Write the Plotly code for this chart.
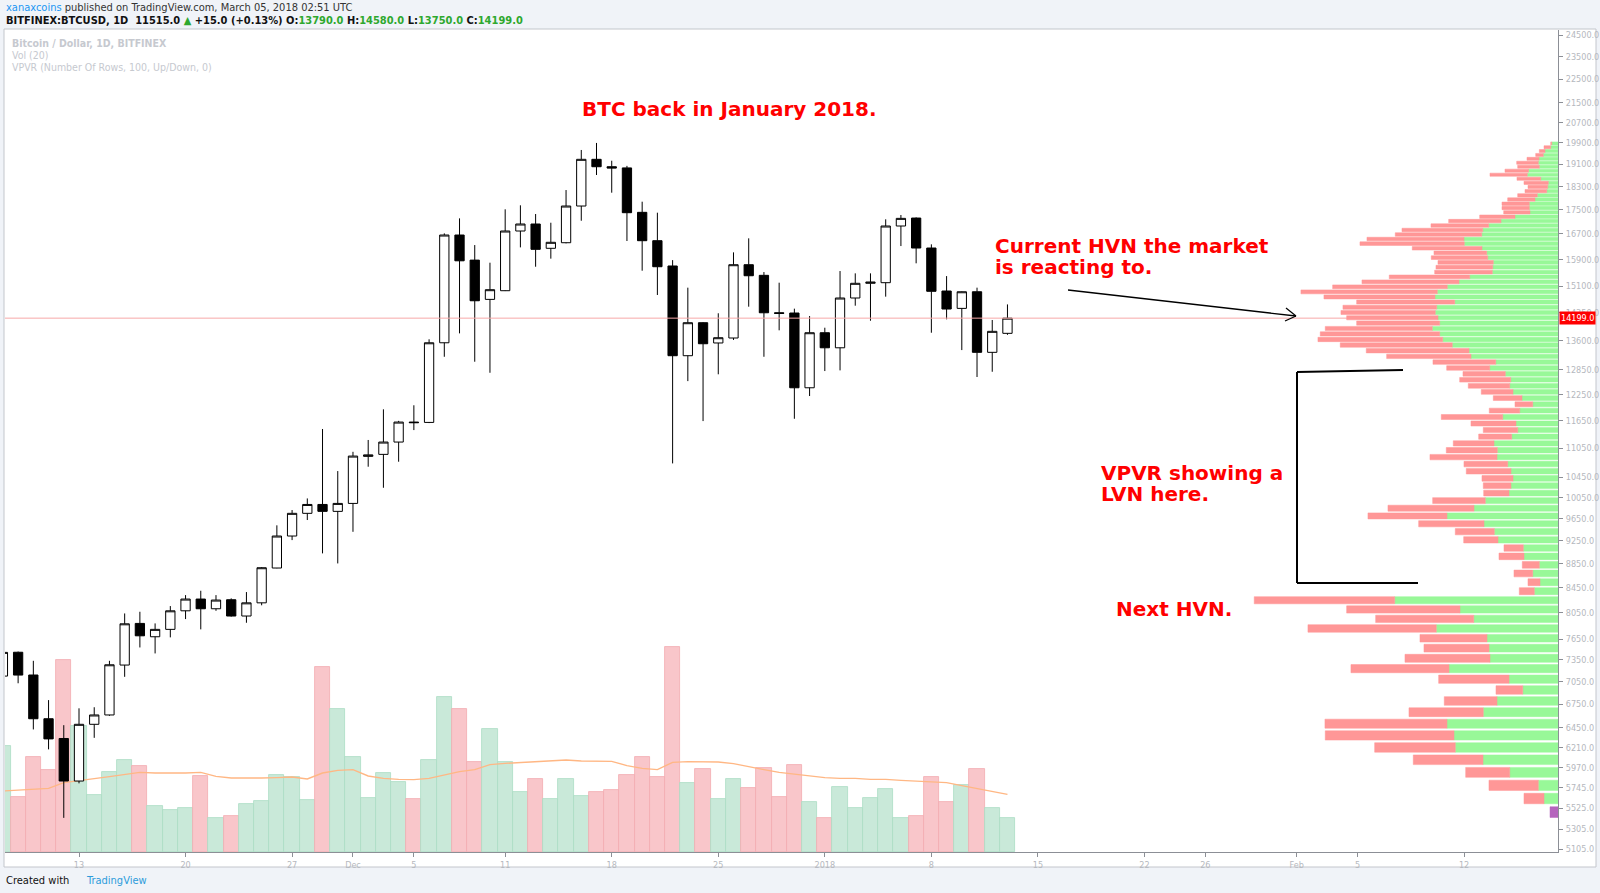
import math
import pandas as pd
import plotly.graph_objects as go

# ---------------- data ----------------
dates = pd.date_range("2017-11-08", "2018-01-13", freq="D")

opens = [7125, 7460, 7140, 6563, 6318, 5821, 6493, 6611, 7278, 7886, 7686, 7796, 8080, 8265, 8112, 8254,
         7999, 8205, 8774, 9332, 9749, 9917, 9786,
         9937, 10880, 10922, 11184, 11623, 11615, 13541, 16665, 15879, 14722, 14970, 16795, 17023, 16244,
         16420, 17623, 19282, 19009, 18965, 17410, 16484, 15700, 13208, 14075, 13536, 13666, 15739, 15420,
         14347, 14340, 12417,
         13806, 13411, 14761, 15185, 15203, 16957, 17219, 16253, 14961, 14469, 14940, 13294, 13790]
highs = [7600, 7470, 7338, 6803, 6482, 6696, 6710, 7338, 8039, 8065, 7886, 8154, 8328, 8398, 8328, 8276,
         8377, 8790, 9526, 9811, 10033, 11469, 10576,
         10976, 11229, 11912, 11650, 12005, 13632, 16719, 17209, 16346, 15800, 17512, 17647, 17353, 17065,
         18174, 19632, 19900, 19230, 19040, 17770, 17398, 15879, 15058, 14090, 14333, 16118, 16559, 15518,
         15203, 14461, 14257,
         13940, 15548, 15479, 15479, 17177, 17321, 17240, 16369, 15398, 14950, 15058, 14149, 14580]
lows = [7050, 7027, 6429, 6187, 5422, 5795, 6326, 6600, 7115, 7529, 7443, 7677, 7952, 7796, 8080, 7990,
        7896, 8166, 8770, 9259, 9624, 9025, 8852,
        9408, 10665, 10241, 10768, 11445, 11600, 13181, 13789, 13056, 12781, 14960, 16273, 15678, 15923,
        16400, 17130, 18708, 18081, 16474, 15558, 14847, 10733, 12577, 11645, 12743, 13615, 14516, 13181,
        13870, 11697, 12221,
        12823, 12840, 14544, 14129, 14799, 16315, 15781, 13806, 14167, 13352, 12677, 12806, 13750]
closes = [7458, 7139, 6563, 6313, 5821, 6493, 6611, 7282, 7880, 7700, 7796, 8080, 8265, 8112, 8249, 7999,
          8205, 8779, 9332, 9749, 9917, 9786, 9937,
          10886, 10910, 11184, 11623, 11610, 13541, 16665, 15858, 14683, 14999, 16795, 17023, 16212, 16433,
          17623, 19282, 19009, 18960, 17398, 16484, 15678, 13208, 14075, 13516, 13674, 15739, 15408, 14347,
          14330, 12417, 13806,
          13411, 14761, 15185, 15220, 16957, 17209, 16253, 14953, 14451, 14940, 13294, 13843, 14199]

# daily volume (thousand BTC, estimated)
volumes = [63.6, 33.2, 57.2, 49.4, 115.4, 75.4, 34.2, 47.8, 55.2, 51.8, 27.8, 25.4, 26.2, 45.8, 20.2, 21.8,
           29.0, 30.4, 46.2, 45.0, 31.4, 110.8, 85.6,
           57.0, 32.6, 47.4, 41.8, 32.0, 55.2, 93.0, 85.8, 53.8, 73.8, 53.8, 36.0, 43.8, 31.6,
           43.8, 33.4, 36.0, 37.4, 46.2, 56.8, 45.2, 123.0, 41.6, 49.8, 31.8, 44.0, 38.2, 50.6,
           33.2, 52.2, 30.2,
           20.6, 39.0, 26.6, 32.2, 37.8, 20.6, 21.6, 45.0, 30.0, 40.0, 49.6, 26.2, 20.2]
# Vol (20) moving average
vol_ma = [36.6, 37.2, 37.8, 38.2, 41.6, 43.0, 44.0, 45.2, 46.6, 47.8, 47.4, 47.2, 47.4, 47.8, 45.4, 44.4,
          44.2, 44.4, 44.6, 45.0, 43.8, 47.4, 49.0,
          49.4, 45.6, 44.2, 43.6, 43.4, 44.2, 46.0, 48.2, 49.4, 52.4, 53.2, 53.8, 54.4, 55.0,
          55.2, 54.6, 54.4, 54.4, 51.8, 50.2, 49.4, 53.8, 54.2, 54.0, 54.0, 53.0, 51.0, 49.4,
          47.8, 46.6, 45.6,
          44.6, 44.2, 44.2, 43.6, 43.6, 43.0, 42.4, 42.0, 41.6, 39.8, 38.2, 36.4, 34.6]

# VPVR: 100 price rows (listed from top row to bottom row), up / down volume
VP_LOW, VP_HIGH, VP_ROWS = 5410, 19955, 100
vp_down = [1.0, 6.7, 5.7, 7.6, 12, 21.6, 21.6, 23.5, 37.3, 23.7, 24.3, 19.7, 21.7, 19.6, 27.3, 27.3, 27.3, 26.3,
           35.3, 52.3, 57.7, 80.7, 86.4, 97, 104.3, 69.7, 52.7, 56.4, 55.3, 56.7, 57.6, 80.4, 97, 114.6, 136.3,
           111, 98, 93.7, 94.3, 91.3, 83, 107, 119.4, 124.7, 112, 102.7, 84.3, 62.7, 43,
           42.3, 51, 41.4, 31.7, 28.7, 17.7, 30.4, 61.4, 45, 34.4, 33, 40.7, 51, 67, 43.7, 44.7, 31, 27.7,
           25.3, 52.6, 86, 79, 65.3, 39, 34.3, 19.3, 25, 17, 18.7, 12, 15,
           140.4, 113.3, 98, 128.3, 67, 65, 85, 98, 70.3, 26.7, 52.7, 74.3, 122, 128.7, 80.6, 69.7, 44, 49.3,
           20, 0]
vp_up = [6.3, 7.3, 13, 14.7, 19, 19.7, 18.7, 29.5, 30.7, 17.3, 9.7, 10.3, 11.3, 20.7, 23, 28.7, 28.7, 28,
         43, 57, 69.3, 75.3, 76.3, 94, 93.7, 76, 71.3, 70.3, 64.7, 65.3, 65.7, 88.3, 99, 110.7, 120.7, 123,
         103.3, 121.3, 122.7, 120, 118.3, 125.7, 118.3, 115.3, 105.7, 89, 87, 62.3, 68.3,
         52.7, 47.3, 48.3, 45, 36, 25.3, 38.3, 55.3, 42, 40.3, 46.3, 64, 60.7, 61, 50.3, 47, 45, 47, 49,
         72.7, 84, 111, 74, 63.7, 60, 34.7, 34, 18.7, 25.3, 18, 23.7,
         163.3, 98, 84.3, 121.7, 71, 69, 68, 109, 49, 35.3, 61, 74.7, 111, 104, 102.7, 75, 48.3, 19.7, 14, 8]
vp_highlight_rows = [99]

price_ticks = [24500, 23500, 22500, 21500, 20700, 19900, 19100, 18300, 17500, 16700, 15900, 15100, 14350,
               13600, 12850, 12250, 11650, 11050, 10450, 10050, 9650, 9250, 8850, 8450, 8050, 7650, 7350,
               7050, 6750, 6450, 6210, 5970, 5745, 5525, 5305, 5105]
date_ticks = ["2017-11-13", "2017-11-20", "2017-11-27", "2017-12-01", "2017-12-05", "2017-12-11",
              "2017-12-18", "2017-12-25", "2018-01-01", "2018-01-08", "2018-01-15", "2018-01-22",
              "2018-01-26", "2018-02-01", "2018-02-05", "2018-02-12"]
date_tick_text = ["13", "20", "27", "Dec", "5", "11", "18", "25", "2018", "8", "15", "22", "26", "Feb", "5", "12"]

# ---------------- layout geometry ----------------
W, H = 1600, 893
L_M, R_M, T_M, B_M = 5, 42, 30, 41
PW, PH = W - L_M - R_M, H - T_M - B_M
X_START, X_END = "2017-11-08 03:19", "2018-02-18 04:05"
P_MIN, P_MAX = 5077, 24737
VOL_FRACTION = 0.2494   # tallest volume bar / pane height
VP_FRACTION = 0.1956    # widest VPVR row / pane width

def pp(X, Y):
    return (X - L_M) / PW, (H - B_M - Y) / PH

FONT_N = "Liberation Sans Narrow, DejaVu Sans Condensed, Arial Narrow, sans-serif"
FONT_B = "DejaVu Sans, Verdana, sans-serif"

fig = go.Figure()

# volume bars + MA (base axes)
vol_colors = ["#f9c6ca" if c < o else "#c9e9d9" for o, c in zip(opens, closes)]
vol_lines = ["#f2a9b0" if c < o else "#a9dcc3" for o, c in zip(opens, closes)]
fig.add_trace(go.Bar(x=dates, y=volumes, width=86400000, marker=dict(color=vol_colors,
                     line=dict(color=vol_lines, width=0.8)), xaxis="x", yaxis="y", showlegend=False,
                     hoverinfo="skip"))
fig.add_trace(go.Scatter(x=dates, y=vol_ma, mode="lines", line=dict(color="#ffb784", width=1.4),
                         xaxis="x", yaxis="y", showlegend=False, hoverinfo="skip"))

# last price line
fig.add_trace(go.Scatter(x=[X_START, X_END], y=[closes[-1], closes[-1]], mode="lines",
                         line=dict(color="#f7a9a9", width=1), xaxis="x", yaxis="y2",
                         showlegend=False, hoverinfo="skip"))

# candles
fig.add_trace(go.Candlestick(x=dates, open=opens, high=highs, low=lows, close=closes,
                             increasing=dict(line=dict(color="#000000", width=1), fillcolor="#ffffff"),
                             decreasing=dict(line=dict(color="#000000", width=1), fillcolor="#000000"),
                             whiskerwidth=0, xaxis="x", yaxis="y2", showlegend=False))

# VPVR rectangles
row_h = (VP_HIGH - VP_LOW) / VP_ROWS
def rects(segs):
    xs, ys = [], []
    for x0, x1, y0, y1 in segs:
        xs += [x0, x1, x1, x0, x0, None]
        ys += [y0, y0, y1, y1, y0, None]
    return xs, ys

g_segs, r_segs, p_segs = [], [], []
for i in range(VP_ROWS):
    c = VP_HIGH - (i + 0.5) * row_h
    y0, y1 = c - 0.39 * row_h, c + 0.39 * row_h
    if i in vp_highlight_rows:
        p_segs.append((0, vp_up[i] + vp_down[i], y0, y1))
        continue
    g_segs.append((0, vp_up[i], y0, y1))
    if vp_down[i] > 0:
        r_segs.append((vp_up[i], vp_up[i] + vp_down[i], y0, y1))

for segs, col in ((g_segs, "#98f898"), (r_segs, "#ff9797"), (p_segs, "#b565bd")):
    xs, ys = rects(segs)
    fig.add_trace(go.Scatter(x=xs, y=ys, mode="lines", fill="toself", fillcolor=col,
                             line=dict(color=col, width=0.5), xaxis="x2", yaxis="y3",
                             showlegend=False, hoverinfo="skip"))

vp_max = max(u + d for u, d in zip(vp_up, vp_down))
vol_top = max(volumes) / VOL_FRACTION

axis_grey = "#8c8f96"
tick_font = dict(family=FONT_N, size=9, color="#b5b8be")

fig.update_layout(
    width=W, height=H, margin=dict(l=L_M, r=R_M, t=T_M, b=B_M, autoexpand=False),
    paper_bgcolor="#f0f3f8", plot_bgcolor="rgba(0,0,0,0)",
    boxgap=0.39, boxgroupgap=0, bargap=0, showlegend=False,
    xaxis=dict(type="date", range=[X_START, X_END], tickvals=date_ticks, ticktext=date_tick_text,
               showgrid=False, zeroline=False, showline=True, linecolor=axis_grey, linewidth=1,
               ticks="outside", ticklen=4, tickcolor=axis_grey, tickfont=tick_font,
               rangeslider=dict(visible=False), anchor="y", automargin=False),
    yaxis=dict(range=[0, vol_top], visible=False, showgrid=False, zeroline=False, automargin=False),
    yaxis2=dict(type="log", overlaying="y", side="right", anchor="x",
                range=[math.log10(P_MIN), math.log10(P_MAX)],
                tickvals=price_ticks, ticktext=[f"{v:.1f}" for v in price_ticks],
                showgrid=False, zeroline=False, showline=True, linecolor=axis_grey, linewidth=1,
                ticks="outside", ticklen=4, tickcolor=axis_grey, tickfont=tick_font, automargin=False,
                ticklabelstandoff=1),
    xaxis2=dict(overlaying="x", range=[vp_max / VP_FRACTION, 0], visible=False, showgrid=False,
                automargin=False),
    yaxis3=dict(type="log", overlaying="y", range=[math.log10(P_MIN), math.log10(P_MAX)],
                visible=False, showgrid=False, automargin=False),
)

# chart frame
fx0, fy1 = pp(4, 29)
fx1, fy0 = pp(1596, 867)
shapes = [dict(type="rect", xref="paper", yref="paper", x0=fx0, x1=fx1, y0=fy0, y1=fy1,
               fillcolor="#ffffff", line=dict(color="#c3c6cc", width=1), layer="below")]

def seg(X0, Y0, X1, Y1, w):
    a0, b0 = pp(X0, Y0)
    a1, b1 = pp(X1, Y1)
    return dict(type="line", xref="paper", yref="paper", x0=a0, y0=b0, x1=a1, y1=b1,
                line=dict(color="#000000", width=w), layer="above")

# arrow to current HVN
shapes += [seg(1068, 290, 1296, 316, 1.3), seg(1296, 316, 1286, 308, 1.3), seg(1296, 316, 1285, 321, 1.3)]
# LVN bracket
shapes += [seg(1297, 372, 1403, 370, 2), seg(1297, 372, 1297, 583, 2), seg(1297, 583, 1418, 583, 2)]
fig.update_layout(shapes=shapes)

ann = []
def txt(X, Y, s, size, color, family, xanchor="left", bold=False):
    a, b = pp(X, Y)
    ann.append(dict(x=a, y=b, xref="paper", yref="paper", text=f"<b>{s}</b>" if bold else s,
                    showarrow=False, xanchor=xanchor, yanchor="middle",
                    font=dict(size=size, color=color, family=family)))

RED = "#ff0000"
txt(729, 109, "BTC back in January 2018.", 20, RED, FONT_B, "center", True)
txt(993, 246, "Current HVN the market", 20, RED, FONT_B, bold=True)
txt(993, 267, "is reacting to.", 20, RED, FONT_B, bold=True)
txt(1099, 473, "VPVR showing a", 20, RED, FONT_B, bold=True)
txt(1099, 494, "LVN here.", 20, RED, FONT_B, bold=True)
txt(1114, 609, "Next HVN.", 20, RED, FONT_B, bold=True)

GREEN = "#2ea82e"
txt(4, 7, "<span style='color:#2196f3'>xanaxcoins</span> published on TradingView.com, March 05, 2018 02:51 UTC",
    11, "#333333", FONT_N)
txt(4, 21, (f"<b>BITFINEX:BTCUSD, 1D  11515.0 <span style='color:{GREEN}'>▲</span> +15.0 (+0.13%) "
            f"O:<span style='color:{GREEN}'>{opens[-1]:.1f}</span> H:<span style='color:{GREEN}'>{highs[-1]:.1f}</span> "
            f"L:<span style='color:{GREEN}'>{lows[-1]:.1f}</span> C:<span style='color:{GREEN}'>{closes[-1]:.1f}</span></b>"),
    11, "#111111", FONT_N)
txt(10, 43, "<b>Bitcoin / Dollar, 1D, BITFINEX</b>", 10.5, "#c6c9cf", FONT_N)
txt(10, 55, "Vol (20)", 10.5, "#c6c9cf", FONT_N)
txt(10, 67, "VPVR (Number Of Rows, 100, Up/Down, 0)", 10.5, "#c6c9cf", FONT_N)
txt(4, 880, "Created with", 11, "#111111", FONT_N)
txt(84, 880, "TradingView", 11, "#2d9cdb", FONT_N)

# last price label on the price axis
ann.append(dict(x=(1559 - L_M) / PW, y=math.log10(closes[-1]), xref="paper", yref="y2",
                text=f"{closes[-1]:.1f}", showarrow=False, xanchor="left", yanchor="middle",
                bgcolor="#ff0000", font=dict(size=9, color="#ffffff", family=FONT_N), borderpad=1))
fig.update_layout(annotations=ann)

fig.write_html("out.html", config={"displayModeBar": False},
               post_script="document.body.style.margin='0';document.body.style.overflow='hidden';"
                           "window.dispatchEvent(new Event('resize'));")
